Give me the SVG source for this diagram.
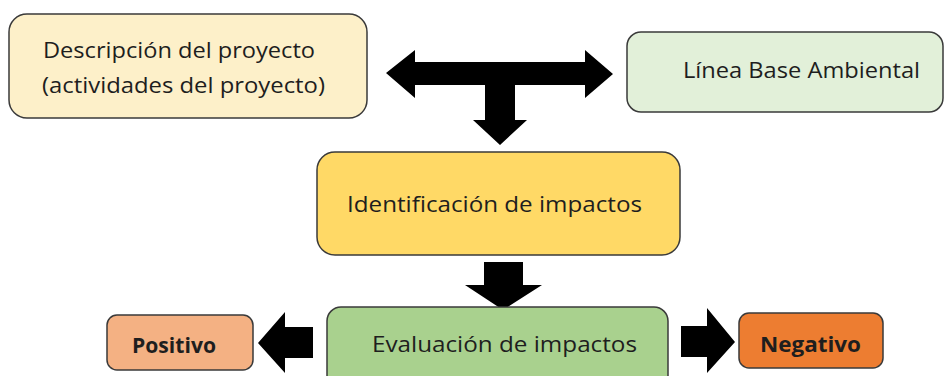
<svg xmlns="http://www.w3.org/2000/svg" width="944" height="376" viewBox="0 0 944 376">
<style>
.box{stroke:#3a3a3a;stroke-width:1.5}
.t{font-family:"Open Sans","Noto Sans","Liberation Sans",sans-serif;font-size:21.5px;font-weight:500;fill:#1e1e1e}
.b{font-weight:bold}
.arrow{fill:#000}
</style>
<rect width="944" height="376" fill="#fff"/>
<g id="connectors">
<polygon class="arrow" points="386,73 415,50 415,62 585,62 585,50 613,74 585,98 585,85 515,85 515,120 527,120 500,145 473,120 485,120 485,85 415,85 415,98"/>
<polygon class="arrow" points="484,262 523,262 523,285 542,285 503,310 465,285 484,285"/>
<polygon class="arrow" points="313,327 313,358 285,358 285,373 258,343 285,312 285,327"/>
<polygon class="arrow" points="681,326 707,326 707,308 735,342 707,373 707,357 681,357"/>
</g>
<g id="descripcion">
<rect class="box" x="9" y="14" width="358" height="104" rx="18" fill="#fdf0c9"/>
<text class="t" x="43" y="58" textLength="272" lengthAdjust="spacingAndGlyphs">Descripción del proyecto</text>
<text class="t" x="42" y="93" textLength="283" lengthAdjust="spacingAndGlyphs">(actividades del proyecto)</text>
</g>
<g id="linea-base">
<rect class="box" x="627" y="32" width="316" height="80" rx="14" fill="#e2f0d9"/>
<text class="t" x="683" y="78" textLength="237" lengthAdjust="spacingAndGlyphs">Línea Base Ambiental</text>
</g>
<g id="identificacion">
<rect class="box" x="317" y="152" width="363" height="103" rx="18" fill="#ffd966"/>
<text class="t" x="347" y="212" textLength="295" lengthAdjust="spacingAndGlyphs">Identificación de impactos</text>
</g>
<g id="evaluacion">
<rect class="box" x="327" y="307" width="341" height="84" rx="14" fill="#a9d18e"/>
<text class="t" x="372" y="352" textLength="265" lengthAdjust="spacingAndGlyphs">Evaluación de impactos</text>
</g>
<g id="positivo">
<rect class="box" x="107" y="315" width="146" height="55" rx="10" fill="#f4b183"/>
<text class="t b" x="132" y="353" textLength="84" lengthAdjust="spacingAndGlyphs">Positivo</text>
</g>
<g id="negativo">
<rect class="box" x="739" y="313" width="144" height="55" rx="10" fill="#ed7d31"/>
<text class="t b" x="760" y="352" textLength="101" lengthAdjust="spacingAndGlyphs">Negativo</text>
</g>
</svg>
